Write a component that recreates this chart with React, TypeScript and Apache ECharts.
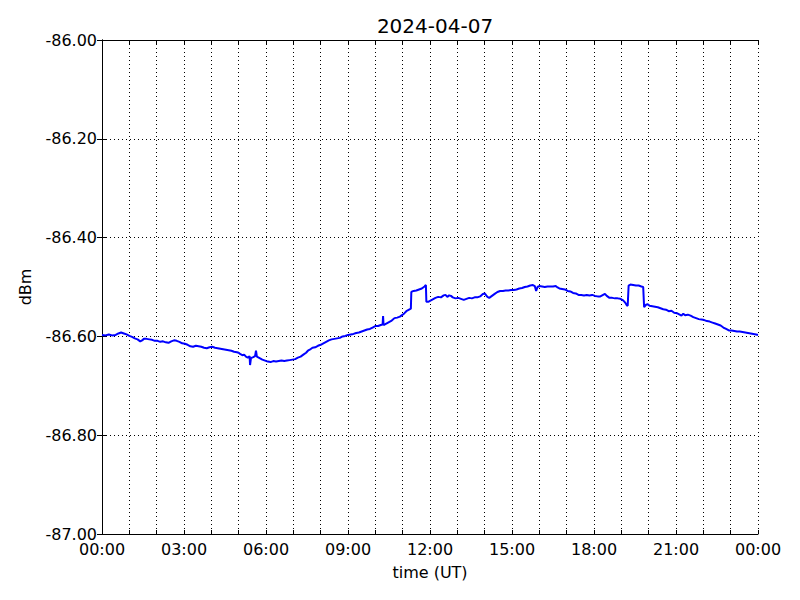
import React, { useEffect, useRef } from "react";
import * as echarts from "echarts";

const titleText = "2024-04-07";
const xAxisName = "time (UT)";
const yAxisName = "dBm";

// minutes after 00:00 UT
const times: number[] = [
  0, 8, 15, 22, 30, 36, 42, 48, 54, 60, 66, 72, 78, 84, 88, 92, 98, 104, 110, 116,
  122, 128, 134, 140, 146, 152, 158, 164, 170, 176, 182, 188, 194, 200, 206, 212, 218, 224, 230, 236,
  242, 248, 254, 260, 266, 272, 278, 284, 290, 296, 300, 304, 308, 312, 316, 320, 324, 325, 327, 332,
  336, 338, 340, 344, 348, 352, 358, 364, 370, 376, 382, 388, 394, 400, 406, 412, 418, 424, 430, 436,
  442, 448, 452, 456, 462, 468, 474, 480, 486, 492, 498, 504, 510, 516, 522, 528, 534, 540, 546, 552,
  558, 564, 570, 576, 582, 588, 594, 600, 606, 612, 616, 617, 618, 624, 630, 636, 642, 648, 654, 660,
  664, 668, 672, 676, 678, 679, 684, 690, 696, 702, 708, 711, 712, 716, 720, 726, 732, 738, 744, 750,
  754, 758, 762, 766, 770, 776, 782, 788, 794, 800, 806, 812, 818, 824, 830, 836, 840, 846, 850, 856,
  862, 868, 874, 880, 886, 892, 898, 904, 910, 916, 922, 928, 934, 940, 946, 950, 953, 956, 960, 966,
  972, 978, 984, 990, 996, 1000, 1004, 1010, 1016, 1022, 1028, 1034, 1040, 1046, 1052, 1058, 1064, 1070, 1076, 1082,
  1088, 1094, 1100, 1104, 1108, 1114, 1120, 1126, 1132, 1138, 1144, 1148, 1152, 1154, 1156, 1160, 1166, 1172, 1178, 1184,
  1188, 1190, 1194, 1198, 1202, 1208, 1214, 1220, 1226, 1232, 1238, 1244, 1250, 1256, 1262, 1268, 1272, 1276, 1280, 1286,
  1292, 1298, 1304, 1310, 1316, 1322, 1328, 1334, 1340, 1346, 1352, 1358, 1364, 1370, 1376, 1382, 1388, 1394, 1400, 1406,
  1412, 1418, 1424, 1430, 1436, 1440,
];

const values: number[] = [
  -86.597, -86.598, -86.596, -86.598, -86.597, -86.594, -86.592, -86.594, -86.596, -86.599, -86.601, -86.604, -86.606, -86.610, -86.608, -86.605, -86.605, -86.606, -86.607, -86.609,
  -86.609, -86.611, -86.610, -86.612, -86.613, -86.610, -86.608, -86.609, -86.611, -86.614, -86.615, -86.617, -86.620, -86.621, -86.619, -86.620, -86.621, -86.623, -86.624, -86.622,
  -86.621, -86.623, -86.624, -86.625, -86.626, -86.627, -86.628, -86.629, -86.631, -86.632, -86.633, -86.636, -86.638, -86.637, -86.641, -86.643, -86.640, -86.658, -86.644, -86.642,
  -86.640, -86.629, -86.641, -86.643, -86.645, -86.647, -86.649, -86.651, -86.652, -86.650, -86.651, -86.650, -86.649, -86.650, -86.649, -86.648, -86.647, -86.646, -86.643, -86.641,
  -86.637, -86.633, -86.629, -86.627, -86.623, -86.622, -86.619, -86.617, -86.614, -86.611, -86.608, -86.606, -86.605, -86.604, -86.603, -86.600, -86.599, -86.597, -86.596, -86.595,
  -86.593, -86.592, -86.590, -86.588, -86.586, -86.585, -86.582, -86.579, -86.579, -86.577, -86.576, -86.559, -86.577, -86.574, -86.571, -86.568, -86.563, -86.562, -86.560, -86.556,
  -86.553, -86.549, -86.547, -86.545, -86.544, -86.510, -86.508, -86.507, -86.505, -86.503, -86.499, -86.496, -86.530, -86.530, -86.528, -86.525, -86.522, -86.520, -86.521, -86.517,
  -86.516, -86.520, -86.517, -86.518, -86.521, -86.523, -86.522, -86.524, -86.526, -86.524, -86.522, -86.523, -86.521, -86.521, -86.519, -86.514, -86.513, -86.520, -86.522, -86.518,
  -86.514, -86.510, -86.508, -86.508, -86.507, -86.507, -86.506, -86.506, -86.505, -86.503, -86.502, -86.500, -86.499, -86.497, -86.496, -86.498, -86.508, -86.500, -86.498, -86.499,
  -86.500, -86.499, -86.499, -86.499, -86.498, -86.501, -86.503, -86.504, -86.505, -86.508, -86.509, -86.512, -86.513, -86.516, -86.516, -86.517, -86.516, -86.517, -86.516, -86.518,
  -86.519, -86.519, -86.516, -86.514, -86.518, -86.522, -86.522, -86.523, -86.523, -86.524, -86.527, -86.531, -86.537, -86.538, -86.497, -86.495, -86.496, -86.497, -86.497, -86.499,
  -86.500, -86.541, -86.536, -86.535, -86.538, -86.539, -86.540, -86.541, -86.543, -86.545, -86.546, -86.549, -86.548, -86.552, -86.553, -86.556, -86.558, -86.554, -86.557, -86.556,
  -86.558, -86.561, -86.563, -86.565, -86.566, -86.567, -86.569, -86.570, -86.572, -86.574, -86.576, -86.578, -86.582, -86.585, -86.588, -86.588, -86.589, -86.590, -86.590, -86.591,
  -86.592, -86.593, -86.594, -86.595, -86.596, -86.597,
];

const xMin = 0;
const xMax = 1440;
const xTickStep = 60;
const xLabelStep = 180;
const yMin = -87;
const yMax = -86;
const yStep = 0.2;

const FONT = "DejaVu Sans";

function fmtTime(v: number): string {
  const m = ((Math.round(v) % 1440) + 1440) % 1440;
  const h = Math.floor(m / 60);
  const mm = m % 60;
  return `${String(h).padStart(2, "0")}:${String(mm).padStart(2, "0")}`;
}

export default function App() {
  const ref = useRef<HTMLDivElement>(null);

  useEffect(() => {
    if (!ref.current) return;
    const chart = echarts.init(ref.current, null, { renderer: "svg" });
    const data = times.map((t, i) => [t, values[i]]);

    const axisLine = { show: true, lineStyle: { color: "#000", width: 1 } };
    const tick = { show: true, inside: true, length: 4, lineStyle: { color: "#000", width: 1 } };
    const dotted = { show: true, lineStyle: { color: "#000", width: 1, type: [1, 3] as any } };

    chart.setOption({
      animation: false,
      backgroundColor: "#fff",
      title: {
        text: titleText,
        left: 430,
        textAlign: "center",
        top: 11,
        textStyle: { fontFamily: FONT, fontSize: 20, fontWeight: "normal", color: "#000" },
      },
      grid: { left: 102, right: 42, top: 40, bottom: 66, containLabel: false },
      xAxis: [
        {
          type: "value",
          min: xMin,
          max: xMax,
          interval: xTickStep,
          position: "bottom",
          name: xAxisName,
          nameLocation: "middle",
          nameGap: 30,
          nameTextStyle: { fontFamily: FONT, fontSize: 16, color: "#000" },
          axisLine,
          axisTick: tick,
          axisLabel: {
            show: true,
            margin: 7,
            fontFamily: FONT,
            fontSize: 16,
            lineHeight: 16,
            color: "#000",
            showMinLabel: true,
            showMaxLabel: true,
            formatter: (v: number) => (Math.round(v) % xLabelStep === 0 ? fmtTime(v) : ""),
          },
          splitLine: dotted,
        },
        {
          type: "value",
          min: xMin,
          max: xMax,
          interval: xTickStep,
          position: "top",
          axisLine,
          axisTick: tick,
          axisLabel: { show: false },
          splitLine: { show: false },
        },
      ],
      yAxis: [
        {
          type: "value",
          min: yMin,
          max: yMax,
          interval: yStep,
          position: "left",
          name: yAxisName,
          nameLocation: "middle",
          nameGap: 69,
          nameRotate: 90,
          nameTextStyle: { fontFamily: FONT, fontSize: 16, color: "#000" },
          axisLine,
          axisTick: { ...tick, length: 5 },
          axisLabel: {
            show: true,
            margin: 5,
            fontFamily: FONT,
            fontSize: 16,
            lineHeight: 16,
            color: "#000",
            formatter: (v: number) => v.toFixed(2),
          },
          splitLine: dotted,
        },
        {
          type: "value",
          min: yMin,
          max: yMax,
          interval: yStep,
          position: "right",
          axisLine,
          axisTick: { ...tick, length: 5 },
          axisLabel: { show: false },
          splitLine: { show: false },
        },
      ],
      series: [
        {
          type: "line",
          xAxisIndex: 0,
          yAxisIndex: 0,
          data,
          showSymbol: false,
          symbol: "none",
          lineStyle: { color: "#0000ff", width: 2 },
          z: 5,
        },
      ],
    });

    return () => chart.dispose();
  }, []);

  return (
    <div
      ref={ref}
      style={{ position: "absolute", left: 0, top: 0, width: 800, height: 600, background: "#fff" }}
    />
  );
}
